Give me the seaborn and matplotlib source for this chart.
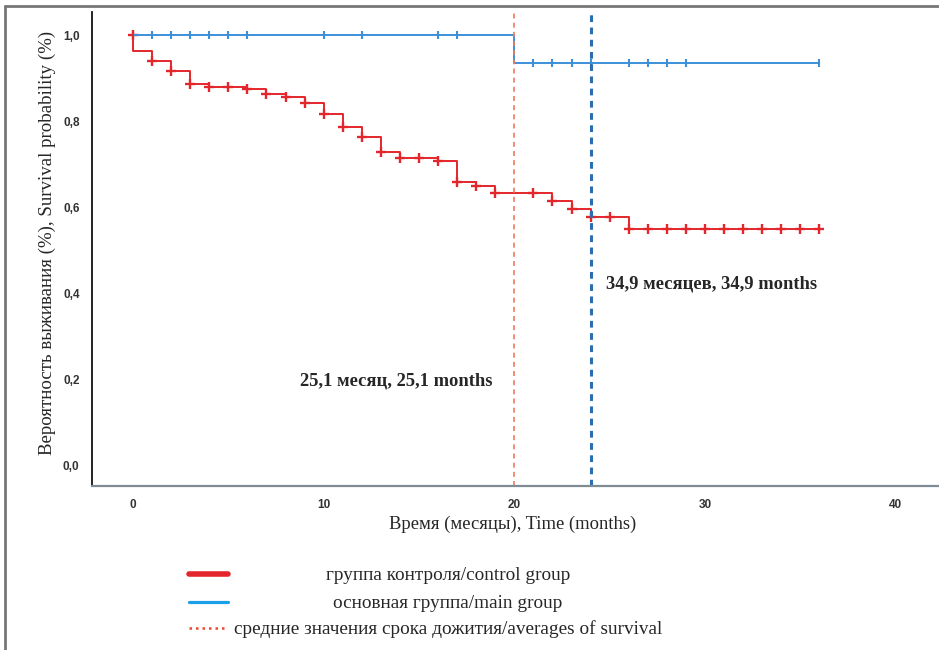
import matplotlib
matplotlib.use("Agg")
import matplotlib.pyplot as plt
import seaborn as sns
import pandas as pd
from matplotlib.lines import Line2D

# ---- data ----
control_times = [0, 0, 1, 2, 3, 4, 5, 6, 7, 8, 9, 10, 11, 12, 13, 14, 15, 16, 17, 18, 19, 20,
                 21, 22, 23, 24, 25, 26, 27, 28, 29, 30, 31, 32, 33, 34, 35, 36]
control_surv = [1.0, 0.963, 0.940, 0.917, 0.886, 0.878, 0.878, 0.874, 0.862, 0.855, 0.841, 0.816,
                0.785, 0.763, 0.728, 0.715, 0.715, 0.707, 0.658, 0.649, 0.633, 0.633,
                0.633, 0.614, 0.596, 0.576, 0.576, 0.550, 0.550, 0.550, 0.550, 0.550, 0.550,
                0.550, 0.550, 0.550, 0.550, 0.550]
control_censor_t = [0, 1, 2, 3, 4, 5, 6, 7, 8, 9, 10, 11, 12, 13, 14, 15, 16, 17, 18, 19, 21,
                    22, 23, 24, 25, 26, 27, 28, 29, 30, 31, 32, 33, 34, 35, 36]

main_times = [0, 20, 36]
main_surv = [1.0, 0.936, 0.936]
main_censor_t = [0, 1, 2, 3, 4, 5, 6, 10, 12, 16, 17, 21, 22, 23, 24, 26, 27, 28, 29, 36]

mean_control = 20
mean_main = 24
y_ticks = [0.0, 0.2, 0.4, 0.6, 0.8, 1.0]
y_ticklabels = ["0,0", "0,2", "0,4", "0,6", "0,8", "1,0"]
x_ticks = [0, 10, 20, 30, 40]
label_control = "25,1 месяц, 25,1 months"
label_main = "34,9 месяцев, 34,9 months"
legend_labels = ["группа контроля/control group", "основная группа/main group",
                 "средние значения срока дожития/averages of survival"]


def surv_at(times, surv, t):
    val = surv[0]
    for tt, s in zip(times, surv):
        if tt <= t:
            val = s
    return val


df_c = pd.DataFrame({"t": control_times, "s": control_surv})
df_m = pd.DataFrame({"t": main_times, "s": main_surv})
cen_c = pd.DataFrame({"t": control_censor_t,
                      "s": [surv_at(control_times, control_surv, t) for t in control_censor_t]})
cen_c.loc[cen_c["t"] == 0, "s"] = 1.0
cen_m = pd.DataFrame({"t": main_censor_t,
                      "s": [surv_at(main_times, main_surv, t) for t in main_censor_t]})

sns.set_style("white")
serif = ["Liberation Serif", "DejaVu Serif"]
narrow = ["Liberation Sans Narrow", "Liberation Sans", "DejaVu Sans"]
plt.rcParams["font.family"] = serif

RED = "#e3262b"
BLUE = "#3d90d8"

fig = plt.figure(figsize=(9.39, 6.5), dpi=100)
ax = fig.add_axes([92 / 939, 1 - 486 / 650, 1 - 92 / 939, (486 - 12) / 650])

sns.lineplot(data=df_m, x="t", y="s", drawstyle="steps-post", color=BLUE, lw=1.4,
             ax=ax, estimator=None, sort=False)
sns.lineplot(data=df_c, x="t", y="s", drawstyle="steps-post", color=RED, lw=1.4,
             ax=ax, estimator=None, sort=False)
sns.scatterplot(data=cen_m, x="t", y="s", marker="|", s=36, color=BLUE, linewidth=1.5, ax=ax)
sns.scatterplot(data=cen_c, x="t", y="s", marker="|", s=44, color=RED, linewidth=1.7, ax=ax)
sns.scatterplot(data=cen_c, x="t", y="s", marker="_", s=44, color=RED, linewidth=1.7, ax=ax)

ax.axvline(mean_control, color="#f07a5a", lw=1.2, ls=(0, (3, 2.5)))
ax.axvline(mean_main, color="#2c6cb0", lw=2.2, ls=(0, (2.2, 1.8)))

ax.text(13.8, 0.195, label_control, ha="center", va="center", fontsize=13.3,
        fontweight="bold", family=serif)
ax.text(30.33, 0.421, label_main, ha="center", va="center", fontsize=13.3,
        fontweight="bold", family=serif)

ax.set_xlim(-2.15, 42.27)
ax.set_ylim(-0.0488, 1.0535)
ax.set_xticks(x_ticks)
ax.set_xticklabels([str(v) for v in x_ticks], family=narrow, fontsize=8.5,
                   fontweight="bold", color="#333333")
ax.set_yticks(y_ticks)
ax.set_yticklabels(y_ticklabels, family=narrow, fontsize=8.5, fontweight="bold",
                   color="#333333")
ax.tick_params(axis="both", length=0, pad=9)
ax.set_xlabel("")
ax.set_ylabel("")
for side in ["top", "right"]:
    ax.spines[side].set_visible(False)
ax.spines["left"].set_color("#111111")
ax.spines["left"].set_linewidth(1.3)
ax.spines["bottom"].set_color("#7f8c96")
ax.spines["bottom"].set_linewidth(1.6)

fig.text(513 / 939, 1 - 524 / 650, "Время (месяцы), Time (months)", ha="center", va="center",
         fontsize=13.4, family=serif)
fig.text(47 / 939, 1 - 243 / 650, "Вероятность выживания (%), Survival probability (%)",
         ha="center", va="center", rotation=90, fontsize=13.6, family=serif)

# legend drawn below
ys = [574, 602, 628]
fig.add_artist(Line2D([189 / 939, 228 / 939], [1 - ys[0] / 650] * 2, color=RED, lw=4))
fig.add_artist(Line2D([189 / 939, 228 / 939], [1 - ys[1] / 650] * 2, color="#1aa0e6", lw=2.3))
fig.add_artist(Line2D([189 / 939, 228 / 939], [1 - ys[2] / 650] * 2, color="#f0442c", lw=1.8,
                      ls=(0, (1, 1.6))))
for y, lab in zip(ys, legend_labels):
    fig.text(448 / 939, 1 - (y + 1) / 650, lab, ha="center", va="center", fontsize=13.9,
             family=serif)

# outer frame (top and left visible)
fig.add_artist(Line2D([5 / 939, 1.0], [1 - 6 / 650] * 2, color="#777777", lw=2))
fig.add_artist(Line2D([5 / 939, 5 / 939], [0, 1 - 6 / 650], color="#777777", lw=2))

fig.savefig("out.png", dpi=100)
